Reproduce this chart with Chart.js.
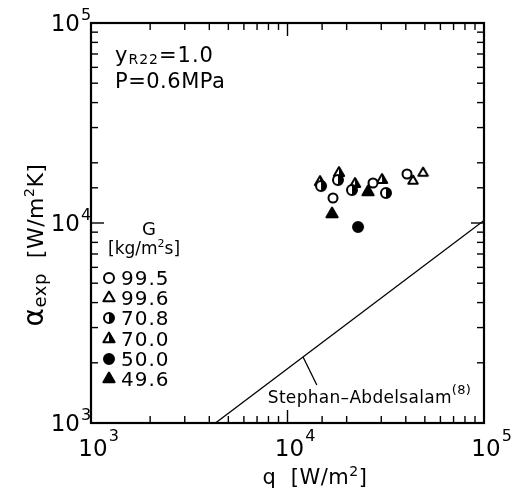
<!DOCTYPE html>
<html>
<head>
<meta charset="utf-8">
<script src="https://cdn.jsdelivr.net/npm/chart.js@4.4.1/dist/chart.umd.min.js"></script>
<style>
  html, body { margin: 0; padding: 0; background: #fff; }
  canvas { display: block; }
</style>
</head>
<body>
<canvas id="alphaChart" width="514" height="494"></canvas>
<script>
// measured points, q [W/m2] vs alpha_exp [W/m2K], one pair of arrays per mass flux G
const q995 = [17040, 27230, 40540];
const a995 = [13340, 15850, 17580];
const q996 = [43540, 48970];
const a996 = [16220, 17780];
const q708 = [14810, 18070, 21290, 31700];
const a708 = [15310, 16400, 14620, 14130];
const q700 = [14640, 18280, 22060, 30270];
const a700 = [16030, 17780, 15670, 16410];
const q500 = [22860];
const a500 = [9550];
const q496 = [16850, 25690];
const a496 = [11090, 14290];

// Stephan-Abdelsalam correlation
const saQ = [4300, 100000];
const saA = [1000, 10300];

// decade ticks
const tickValues = [1e3, 1e4, 1e5];
const tickExps = ['3', '4', '5'];

const FONT = '"DejaVu Sans", sans-serif';

function makeMarker(shape, fill, r) {
  const size = 2 * Math.ceil(r + 2);
  const c = document.createElement('canvas');
  c.width = size;
  c.height = size;
  const g = c.getContext('2d');
  const m = size / 2;
  const path = () => {
    g.beginPath();
    if (shape === 'circle') {
      g.arc(m, m, r, 0, Math.PI * 2);
    } else {
      g.moveTo(m, m - r);
      g.lineTo(m + r * 0.866, m + r * 0.5);
      g.lineTo(m - r * 0.866, m + r * 0.5);
      g.closePath();
    }
  };
  g.fillStyle = '#fff';
  path(); g.fill();
  g.fillStyle = '#000';
  if (fill === 'full') { path(); g.fill(); }
  if (fill === 'half') {
    g.save();
    g.beginPath(); g.rect(m, 0, m, size); g.clip();
    path(); g.fill();
    g.restore();
  }
  g.lineWidth = 2;
  g.lineJoin = 'round';
  g.strokeStyle = '#000';
  path(); g.stroke();
  return c;
}

const groups = [
  { label: '99.5', q: q995, a: a995, shape: 'circle', fill: 'none', r: 4.5 },
  { label: '99.6', q: q996, a: a996, shape: 'triangle', fill: 'none', r: 5.5 },
  { label: '70.8', q: q708, a: a708, shape: 'circle', fill: 'half', r: 5 },
  { label: '70.0', q: q700, a: a700, shape: 'triangle', fill: 'half', r: 6 },
  { label: '50.0', q: q500, a: a500, shape: 'circle', fill: 'full', r: 5 },
  { label: '49.6', q: q496, a: a496, shape: 'triangle', fill: 'full', r: 6.5 }
];

const pointSets = groups.map(g => ({
  label: g.label,
  data: g.q.map((v, i) => ({ x: v, y: g.a[i] })),
  pointStyle: makeMarker(g.shape, g.fill, g.r),
  legendStyle: makeMarker(g.shape, g.fill, g.shape === 'circle' ? 5 : 6.5),
  pointRadius: g.r,
  showLine: false
}));

const lineSet = {
  label: 'Stephan-Abdelsalam',
  data: saQ.map((v, i) => ({ x: v, y: saA[i] })),
  showLine: true,
  pointRadius: 0,
  borderColor: '#000',
  borderWidth: 1.3
};

// draws pieces of text one after another on a common baseline
function runs(ctx, parts, x, y, align, ls) {
  ctx.letterSpacing = (ls || 0) + 'px';
  let total = 0;
  parts.forEach(p => { ctx.font = p.s + 'px ' + FONT; p.w = ctx.measureText(p.t).width; total += p.w; });
  let cx = align === 'center' ? x - total / 2 : (align === 'right' ? x - total : x);
  ctx.textAlign = 'left';
  ctx.textBaseline = 'alphabetic';
  parts.forEach(p => {
    ctx.font = p.s + 'px ' + FONT;
    ctx.fillText(p.t, cx, y + (p.dy || 0));
    cx += p.w;
  });
  ctx.letterSpacing = '0px';
}

const isDecade = v => Math.abs(Math.log10(v) - Math.round(Math.log10(v))) < 1e-6;

const frame = {
  id: 'frame',
  afterDraw(chart) {
    const { ctx, chartArea: a, scales: { x, y } } = chart;
    ctx.save();
    ctx.strokeStyle = '#000';
    ctx.fillStyle = '#000';
    ctx.lineWidth = 1.4;
    const seg = (x1, y1, x2, y2) => { ctx.beginPath(); ctx.moveTo(x1, y1); ctx.lineTo(x2, y2); ctx.stroke(); };

    // inward ticks on all four sides
    x.ticks.forEach(t => {
      const px = x.getPixelForValue(t.value);
      const len = isDecade(t.value) ? 13 : 7;
      seg(px, a.bottom, px, a.bottom - len);
      seg(px, a.top, px, a.top + len);
    });
    y.ticks.forEach(t => {
      const py = y.getPixelForValue(t.value);
      const len = isDecade(t.value) ? 13 : 7;
      seg(a.left, py, a.left + len, py);
      seg(a.right, py, a.right - len, py);
    });

    ctx.lineWidth = 2.2;
    ctx.strokeRect(a.left, a.top, a.width, a.height);

    // decade labels
    tickValues.forEach((v, i) => {
      const px = x.getPixelForValue(v);
      ctx.font = '23px ' + FONT;
      const w = ctx.measureText('10').width;
      ctx.textAlign = 'left';
      ctx.fillText('10', px + 2 - w / 2, a.bottom + 33);
      ctx.font = '16px ' + FONT;
      ctx.fillText(tickExps[i], px + 2 + w / 2 + 1, a.bottom + 18);

      const py = y.getPixelForValue(v);
      ctx.font = '23px ' + FONT;
      ctx.fillText('10', a.left - 11 - w, py + 8);
      ctx.font = '16px ' + FONT;
      ctx.fillText(tickExps[i], a.left - 10, py - 3);
    });

    // axis titles
    runs(ctx, [{ t: 'q  [W/m', s: 21 }, { t: '2', s: 14, dy: -8 }, { t: ']', s: 21 }], 315, 484, 'center', 0.5);
    ctx.save();
    ctx.translate(43, 245);
    ctx.rotate(-Math.PI / 2);
    runs(ctx, [{ t: 'α', s: 28 }, { t: 'exp', s: 18, dy: 3 }, { t: '  [W/m', s: 22 },
      { t: '2', s: 14, dy: -9 }, { t: 'K]', s: 22 }], 0, 0, 'center', 0.5);
    ctx.restore();

    // conditions
    runs(ctx, [{ t: 'y', s: 21 }, { t: 'R22', s: 14, dy: 2 }, { t: '=1.0', s: 21 }], 115, 62, 'left', 1);
    runs(ctx, [{ t: 'P=0.6MPa', s: 21 }], 115, 88, 'left', 0.5);

    // legend
    runs(ctx, [{ t: 'G', s: 18 }], 149, 235, 'center');
    runs(ctx, [{ t: '[kg/m', s: 17 }, { t: '2', s: 11, dy: -7 }, { t: 's]', s: 17 }], 108, 254, 'left');
    chart.data.datasets.forEach((ds, i) => {
      if (!ds.legendStyle) return;
      const cy = 278 + (i - 1) * 20.2;
      const img = ds.legendStyle;
      ctx.drawImage(img, 109 - img.width / 2, Math.round(cy - img.height / 2));
      runs(ctx, [{ t: ds.label, s: 20 }], 121, cy + 7, 'left', 1);
    });

    // correlation label with leader
    ctx.lineWidth = 1.3;
    seg(x.getPixelForValue(12000), y.getPixelForValue(2140), x.getPixelForValue(14100), y.getPixelForValue(1550));
    runs(ctx, [{ t: 'Stephan–Abdelsalam', s: 17 }, { t: '(8)', s: 13, dy: -9 }],
      x.getPixelForValue(7940), y.getPixelForValue(1259), 'left', 0.3);
    ctx.restore();
  }
};

new Chart(document.getElementById('alphaChart'), {
  type: 'scatter',
  data: { datasets: [lineSet, ...pointSets] },
  options: {
    responsive: false,
    animation: false,
    layout: { padding: { top: 23, right: 30, bottom: 0, left: 0 } },
    plugins: { legend: { display: false }, tooltip: { enabled: false } },
    scales: {
      x: {
        type: 'logarithmic', min: 1000, max: 100000,
        ticks: { display: false }, grid: { display: false }, border: { display: false },
        afterFit(s) { s.height = 71; s.paddingLeft = 0; s.paddingRight = 0; }
      },
      y: {
        type: 'logarithmic', min: 1000, max: 100000,
        ticks: { display: false }, grid: { display: false }, border: { display: false },
        afterFit(s) { s.width = 91; s.paddingTop = 0; s.paddingBottom = 0; }
      }
    }
  },
  plugins: [frame]
});
</script>
</body>
</html>
